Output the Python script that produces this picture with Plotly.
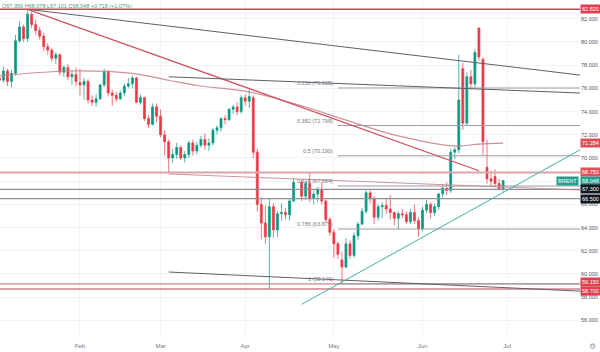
import plotly.graph_objects as go
import pandas as pd

# ---------------- data ----------------
dates = [d.strftime("%Y-%m-%d") for d in pd.bdate_range("2025-01-06", "2025-06-30")
         if d.strftime("%Y-%m-%d") != "2025-04-18"]

opens = [76.9, 76.7, 77.5, 76.6, 77.3, 80.1, 81.3, 80.3, 82.4, 81.5, 81.0, 80.5, 79.6, 79.3, 78.6, 78.9, 77.4, 77.8, 77.0, 77.2,
         76.5, 76.3, 76.6, 75.0, 74.8, 75.1, 76.3, 77.4, 75.6, 75.4, 75.1, 75.6, 76.2, 76.4, 76.9, 74.8, 75.2, 73.4, 72.9, 74.4,
         73.6, 72.0, 71.4, 70.0, 70.3, 70.9, 70.0, 70.3, 71.3, 70.6, 71.1, 71.6, 71.1, 71.3, 72.4, 72.6, 73.4, 73.3, 74.2, 74.4, 74.0,
         75.2, 74.9, 75.2, 70.5, 66.0, 64.4, 63.2, 65.8, 63.8, 65.2, 65.3, 65.1, 66.3, 67.9, 66.7, 67.8, 66.5, 66.9, 67.3, 66.3, 64.7,
         63.6, 62.6, 61.2, 60.6, 62.6, 61.6, 63.3, 64.3, 65.4, 67.0, 66.5, 64.9, 65.8, 65.9, 65.6, 65.3, 64.8, 65.2, 65.1, 64.5, 65.3, 64.6,
         63.9, 65.5, 66.0, 65.3, 65.8, 66.9, 67.4, 67.2, 70.5, 70.7, 77.7, 73.0, 77.0, 76.4, 81.2, 78.5, 69.2, 68.2, 68.4, 67.8, 67.356]
highs = [77.6, 77.9, 77.7, 77.6, 80.6, 81.8, 81.5, 82.82, 82.6, 81.9, 81.3, 80.8, 79.9, 79.5, 79.1, 79.0, 78.0, 78.1, 77.6, 77.8,
         77.7, 76.9, 76.8, 75.4, 75.5, 76.4, 77.7, 77.6, 75.9, 75.7, 75.8, 76.4, 76.9, 77.1, 77.0, 75.5, 75.3, 73.7, 74.7, 74.7,
         74.2, 72.4, 71.6, 70.8, 71.3, 71.1, 70.6, 71.5, 71.6, 71.4, 71.9, 72.1, 71.7, 72.6, 72.8, 73.5, 73.7, 74.3, 74.6, 74.8, 75.4,
         75.5, 75.9, 75.4, 70.8, 66.6, 65.9, 66.5, 66.1, 65.4, 66.1, 65.7, 66.5, 68.3, 68.1, 68.0, 68.8, 67.2, 67.5, 67.9, 66.4, 64.9,
         63.9, 62.8, 61.9, 63.1, 62.9, 63.6, 64.5, 65.7, 67.3, 67.3, 66.7, 66.0, 66.2, 66.5, 66.8, 65.4, 65.4, 65.6, 65.4, 65.6, 66.0, 64.9,
         65.8, 66.4, 66.2, 66.1, 67.0, 67.7, 67.9, 70.8, 70.9, 78.9, 78.2, 77.4, 77.6, 79.4, 81.25, 78.7, 71.6, 68.9, 69.0, 68.2, 68.078]
lows = [76.3, 76.5, 76.2, 76.1, 77.1, 79.9, 80.0, 80.0, 81.2, 80.6, 80.2, 79.2, 78.9, 78.3, 78.1, 77.1, 77.0, 76.7, 76.3, 76.2,
        75.4, 75.0, 74.7, 74.5, 74.4, 75.0, 76.1, 75.3, 74.5, 74.8, 75.0, 75.3, 76.0, 76.0, 74.7, 74.6, 73.2, 72.6, 72.8, 73.1,
        71.8, 70.2, 68.75, 69.6, 69.9, 69.8, 69.6, 70.0, 70.2, 70.3, 70.9, 70.7, 70.6, 71.1, 72.0, 72.3, 72.9, 73.2, 73.8, 73.7, 73.8,
        74.5, 74.3, 70.0, 65.4, 63.0, 62.6, 58.7, 63.1, 63.2, 64.6, 64.7, 64.6, 66.2, 66.3, 66.4, 66.2, 66.0, 66.2, 66.0, 64.4, 63.3,
        61.4, 61.3, 59.146, 60.5, 61.3, 61.4, 62.9, 64.2, 65.2, 66.1, 64.3, 64.6, 64.8, 65.2, 64.7, 64.2, 63.8, 64.8, 64.3, 64.3, 64.3, 63.2,
        63.7, 65.2, 64.8, 65.0, 65.5, 66.6, 66.8, 67.0, 69.9, 70.4, 72.4, 72.8, 75.9, 76.1, 78.4, 70.2, 67.8, 67.6, 67.5, 67.2, 67.101]
closes = [76.7, 77.5, 76.6, 77.3, 80.1, 81.3, 80.3, 82.4, 81.5, 81.0, 80.5, 79.6, 79.3, 78.6, 78.9, 77.4, 77.8, 77.0, 77.2, 76.6,
          76.3, 76.6, 75.0, 74.8, 75.1, 76.3, 77.4, 75.6, 75.4, 75.1, 75.6, 76.2, 76.4, 76.9, 74.8, 75.2, 73.4, 72.9, 74.4, 73.6,
          72.0, 71.4, 70.0, 70.3, 70.9, 70.0, 70.3, 71.3, 70.6, 71.1, 71.6, 71.1, 71.3, 72.4, 72.6, 73.4, 73.3, 74.2, 74.4, 74.0, 75.2,
          74.9, 75.3, 70.5, 66.0, 64.4, 63.2, 65.8, 63.8, 65.2, 65.3, 65.1, 66.3, 67.9, 66.7, 67.8, 66.5, 66.9, 67.3, 66.3, 64.7, 63.6,
          62.6, 61.7, 60.6, 62.6, 61.6, 63.3, 64.3, 65.4, 67.0, 66.5, 64.9, 65.8, 65.9, 65.6, 65.3, 64.8, 65.2, 65.1, 64.5, 65.3, 64.6, 63.9,
          65.5, 66.0, 65.3, 65.8, 66.9, 67.4, 67.2, 70.5, 70.7, 75.0, 73.0, 77.0, 76.4, 79.1, 78.7, 71.4, 68.2, 68.0, 67.8, 67.33, 68.048]

# 200-day moving average, read at sample dates
ma_dates = ["2025-01-06", "2025-01-29", "2025-02-20", "2025-03-05", "2025-03-14", "2025-04-02",
            "2025-04-21", "2025-05-07", "2025-05-23", "2025-06-12", "2025-06-20", "2025-06-30"]
ma_values = [77.07, 77.5, 77.3, 76.7, 76.25, 75.7, 74.5, 73.15, 71.9, 71.03, 71.2, 71.284]

# horizontal levels (full width)
level_prices = [82.82, 68.75, 67.30, 66.50, 59.15, 58.70]

# Fibonacci retracement
fib_ratios = ["0.236", "0.382", "0.5", "0.618", "0.786", "1"]
fib_prices = [76.035, 72.798, 70.190, 67.584, 63.875, 59.146]
fib_start = "2025-05-02"

# trend lines: start date/price -> end date/price
X_END = "2025-07-25 02:00"
trend_x0 = ["2025-01-15", "2025-01-15", "2025-03-05", "2025-03-05", "2025-03-05", "2025-04-21"]
trend_y0 = [82.82, 82.82, 77.0, 68.62, 60.17, 57.38]
trend_x1 = [X_END, "2025-06-20", X_END, X_END, X_END, X_END]
trend_y1 = [77.15, 68.9, 75.6, 67.24, 58.52, 70.7]

# axis labels
month_ticks = ["2025-02-03", "2025-03-03", "2025-04-01", "2025-05-01", "2025-06-02", "2025-07-01"]
month_labels = ["Feb", "Mar", "Apr", "May", "Jun", "Jul"]

# price-axis tags
tag_prices = [82.82, 71.284, 68.75, 68.048, 67.30, 66.50, 59.15, 58.70]
tag_texts = ["82.820", "71.284", "68.750", "68.048", "67.300", "66.500", "59.150", "58.700"]

header = ("O67.356", "H68.078", "L67.101", "C68.048", "+0.718 (+1.07%)")

# ---------------- styles ----------------
UP = "#089981"
DN = "#f23645"
FONT = "Liberation Sans, Arial, sans-serif"
GRID = "#f2f3f6"
level_colors = ["#d8434f", "#dca4a9", "#8d9099", "#8d9099", "#cf828a", "#cf828a"]
level_widths = [1.4, 2.2, 1.3, 1.3, 1.4, 1.4]
trend_colors = ["#5d6069", "#d05560", "#5d6069", "rgba(200,130,136,0.85)", "#5d6069", "#46b0a0"]
trend_widths = [1.0, 1.3, 1.0, 1.0, 1.0, 1.0]
tag_colors = ["#e0404d", "#e0505b", "#e0505b", "#22a08c", "#131722", "#131722", "#e0404d", "#e0404d"]
tag_shift = [0, 0, 0, 0, 0, 0, 1.5, -1.5]

fig = go.Figure()

fig.add_trace(go.Candlestick(
    x=dates, open=opens, high=highs, low=lows, close=closes,
    increasing=dict(line=dict(color=UP, width=0.7), fillcolor=UP),
    decreasing=dict(line=dict(color=DN, width=0.7), fillcolor=DN),
    whiskerwidth=0, showlegend=False, hoverinfo="skip"))

fig.add_trace(go.Scatter(
    x=ma_dates, y=ma_values, mode="lines",
    line=dict(color="rgba(196,128,132,0.85)", width=1.2, shape="spline", smoothing=1.0),
    showlegend=False, hoverinfo="skip"))

shapes = []
for p, c, w in zip(level_prices, level_colors, level_widths):
    shapes.append(dict(type="line", xref="paper", x0=0, x1=1, yref="y", y0=p, y1=p,
                       line=dict(color=c, width=w), layer="above"))
for p in fib_prices:
    shapes.append(dict(type="line", xref="x", x0=fib_start, x1=X_END, yref="y", y0=p, y1=p,
                       line=dict(color="#9a9da6", width=1), layer="above"))
for x0, y0, x1, y1, c, w in zip(trend_x0, trend_y0, trend_x1, trend_y1, trend_colors, trend_widths):
    shapes.append(dict(type="line", xref="x", x0=x0, x1=x1, yref="y", y0=y0, y1=y1,
                       line=dict(color=c, width=w), layer="above"))

annotations = []
for r, p in zip(fib_ratios, fib_prices):
    annotations.append(dict(x=fib_start, y=p, xref="x", yref="y", text=f"{r} ({p:.3f})",
                            showarrow=False, xanchor="right", yanchor="middle",
                            xshift=-3, yshift=5, font=dict(family=FONT, size=5.5, color="#787b86")))
for p, t, c, s in zip(tag_prices, tag_texts, tag_colors, tag_shift):
    annotations.append(dict(x=1, y=p, xref="paper", yref="y", text=t, showarrow=False,
                            xanchor="left", yanchor="middle", xshift=0, yshift=s,
                            bgcolor=c, borderpad=1,
                            font=dict(family=FONT, size=5.5, color="#ffffff")))
annotations.append(dict(x=1, y=68.048, xref="paper", yref="y", text="BRENT", showarrow=False,
                        xanchor="right", yanchor="middle", xshift=-1, bgcolor="#22a08c",
                        borderpad=1, font=dict(family=FONT, size=5.5, color="#ffffff")))
hdr = (f'<span style="color:#787b86">O</span>{header[0][1:]} '
       f'<span style="color:#787b86">H</span>{header[1][1:]} '
       f'<span style="color:#787b86">L</span>{header[2][1:]} '
       f'<span style="color:#787b86">C</span>{header[3][1:]} {header[4]}')
annotations.append(dict(x=0, y=1, xref="paper", yref="paper", text=hdr, showarrow=False,
                        xanchor="left", yanchor="top", xshift=0, yshift=-1,
                        font=dict(family=FONT, size=5.5, color="#3c9f8e")))
annotations.append(dict(x=1, y=0, xref="paper", yref="paper", text="⚙", showarrow=False,
                        xanchor="center", yanchor="middle", xshift=12, yshift=-8,
                        font=dict(family="DejaVu Sans", size=8, color="#9598a1")))

fig.update_layout(
    width=600, height=352,
    margin=dict(l=0, r=20, t=0, b=14),
    paper_bgcolor="#ffffff", plot_bgcolor="#ffffff",
    shapes=shapes, annotations=annotations,
    showlegend=False,
    xaxis=dict(type="date", range=["2025-01-06 03:36", X_END],
               rangebreaks=[dict(bounds=["sat", "mon"])],
               tickvals=month_ticks, ticktext=month_labels,
               showgrid=True, gridcolor=GRID, gridwidth=1,
               zeroline=False, showline=False, ticks="",
               ticklabelstandoff=3,
               tickfont=dict(family=FONT, size=6, color="#787b86"),
               rangeslider=dict(visible=False), automargin=False, fixedrange=True),
    yaxis=dict(side="right", range=[54.48, 83.62], dtick=2, tick0=0, tickformat=".3f",
               showgrid=True, gridcolor=GRID, gridwidth=1,
               zeroline=False, showline=False, ticks="",
               tickfont=dict(family=FONT, size=5.5, color="#50535e"),
               automargin=False, fixedrange=True),
)

fig.write_html("out.html")
